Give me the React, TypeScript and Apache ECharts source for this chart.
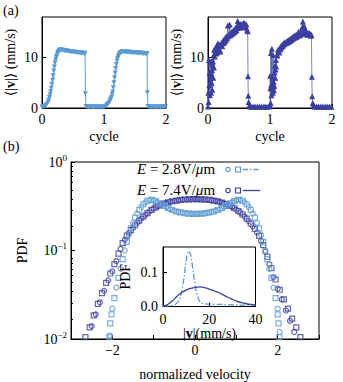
import React, { useEffect, useRef } from "react";
import * as echarts from "echarts";

const LIGHT = "#5b9bd5";
const DARK = "#3b3f9f";
const FONT = "'Liberation Serif', 'DejaVu Serif', 'Times New Roman', serif";

// ---- panel (a): <|v|> vs cycle ----
const lightTrace: [number, number][] = [
  [0, 0.2], [0.02, 0.25], [0.04, 0.35], [0.06, 0.5], [0.08, 0.8], [0.1, 1.2], [0.11, 1.6], [0.12, 2.1],
  [0.13, 2.6], [0.14, 3.2], [0.15, 3.9], [0.16, 4.7], [0.17, 5.5], [0.18, 6.4], [0.19, 7.3], [0.2, 8.1],
  [0.21, 8.9], [0.22, 9.5], [0.23, 10.0], [0.24, 10.4], [0.25, 10.8], [0.26, 11.0], [0.27, 11.2],
  [0.28, 11.35], [0.29, 11.45], [0.3, 11.5], [0.32, 11.45], [0.34, 11.4], [0.36, 11.35], [0.38, 11.3],
  [0.4, 11.3], [0.42, 11.25], [0.44, 11.2], [0.46, 11.2], [0.48, 11.15], [0.5, 11.1], [0.52, 11.1],
  [0.54, 11.05], [0.56, 11.0], [0.58, 11.0], [0.6, 10.95], [0.62, 10.95], [0.64, 10.9], [0.66, 10.9],
  [0.68, 10.85], [0.695, 10.8], [0.7, 2.8], [0.71, 0.3], [0.73, 0.25], [0.75, 0.2], [0.77, 0.2],
  [0.79, 0.2], [0.81, 0.2], [0.83, 0.2], [0.85, 0.2], [0.87, 0.2], [0.89, 0.2], [0.91, 0.2], [0.93, 0.2],
  [0.95, 0.2], [0.97, 0.2], [0.99, 0.25], [1.01, 0.3], [1.03, 0.4], [1.05, 0.66], [1.07, 0.9], [1.09, 1.2],
  [1.1, 1.5], [1.11, 1.8], [1.12, 2.1], [1.13, 2.6], [1.14, 3.1], [1.15, 4.0], [1.16, 5.0], [1.17, 6.0],
  [1.18, 6.9], [1.19, 7.8], [1.2, 8.6], [1.21, 9.3], [1.22, 9.8], [1.23, 10.2], [1.24, 10.5], [1.25, 10.7],
  [1.26, 10.9], [1.27, 11.0], [1.28, 11.1], [1.3, 11.15], [1.32, 11.15], [1.34, 11.1], [1.36, 11.1],
  [1.38, 11.1], [1.4, 11.05], [1.42, 11.05], [1.44, 11.0], [1.46, 11.0], [1.48, 11.0], [1.5, 10.95],
  [1.52, 10.95], [1.54, 10.9], [1.56, 10.9], [1.58, 10.9], [1.6, 10.85], [1.62, 10.85], [1.64, 10.8],
  [1.66, 10.8], [1.68, 10.75], [1.695, 10.75], [1.7, 3.0], [1.71, 0.3], [1.73, 0.25], [1.75, 0.2],
  [1.77, 0.2], [1.79, 0.2], [1.81, 0.2], [1.83, 0.2], [1.85, 0.2], [1.87, 0.2], [1.89, 0.2], [1.91, 0.2],
  [1.93, 0.2], [1.95, 0.2], [1.97, 0.2], [1.99, 0.2],
];

const darkTrace: [number, number][] = [
  [0, 0.3], [0.005, 3.0], [0.01, 1.2], [0.015, 9.5], [0.02, 4.5], [0.025, 7.0], [0.03, 2.5], [0.035, 9.0],
  [0.04, 4.9], [0.045, 6.5], [0.05, 3.0], [0.055, 9.3], [0.06, 5.0], [0.065, 7.5], [0.07, 3.6], [0.075, 8.5],
  [0.08, 9.2], [0.085, 6.0], [0.09, 10.5], [0.095, 8.0], [0.1, 11.5], [0.11, 10.2], [0.12, 11.9],
  [0.13, 10.8], [0.14, 12.3], [0.15, 11.0], [0.16, 12.8], [0.17, 11.6], [0.18, 12.5], [0.19, 11.4],
  [0.2, 11.2], [0.21, 12.6], [0.22, 12.9], [0.23, 12.2], [0.24, 13.2], [0.25, 12.8], [0.26, 13.6],
  [0.27, 13.1], [0.28, 13.9], [0.29, 13.4], [0.3, 14.2], [0.31, 13.8], [0.32, 16.3], [0.33, 14.2],
  [0.34, 14.6], [0.35, 16.5], [0.36, 14.4], [0.37, 14.9], [0.38, 14.6], [0.39, 15.2], [0.4, 14.8],
  [0.41, 15.3], [0.42, 15.0], [0.43, 15.6], [0.44, 15.2], [0.45, 15.9], [0.46, 15.4], [0.47, 16.2],
  [0.48, 17.2], [0.49, 15.8], [0.5, 16.4], [0.51, 16.0], [0.52, 16.6], [0.53, 16.3], [0.54, 16.5],
  [0.55, 15.9], [0.56, 16.4], [0.57, 16.8], [0.58, 16.1], [0.59, 16.8], [0.6, 16.2], [0.61, 16.0],
  [0.62, 16.5], [0.63, 15.5], [0.64, 15.2], [0.645, 6.3], [0.65, 2.4], [0.655, 1.2], [0.665, 0.5],
  [0.68, 0.3], [0.71, 0.25], [0.74, 0.3], [0.77, 0.25], [0.8, 0.3], [0.83, 0.25], [0.86, 0.3],
  [0.89, 0.25], [0.92, 0.3], [0.95, 0.25], [0.98, 0.3],
  [1.0, 0.5], [1.003, 6.4], [1.006, 3.9], [1.01, 1.0], [1.015, 10.9], [1.02, 4.6], [1.025, 2.5],
  [1.03, 11.7], [1.035, 4.2], [1.04, 6.0], [1.045, 3.0], [1.05, 10.5], [1.055, 4.3], [1.06, 5.2],
  [1.065, 3.5], [1.07, 4.4], [1.075, 7.0], [1.08, 8.4], [1.085, 6.0], [1.09, 7.6], [1.095, 9.5],
  [1.1, 8.2], [1.11, 10.5], [1.12, 10.4], [1.13, 11.5], [1.14, 11.4], [1.15, 11.0], [1.16, 11.9],
  [1.17, 11.6], [1.18, 12.3], [1.19, 12.0], [1.2, 12.5], [1.21, 12.3], [1.22, 12.8], [1.23, 12.6],
  [1.24, 13.0], [1.25, 12.8], [1.26, 13.1], [1.27, 12.9], [1.28, 13.3], [1.29, 13.0], [1.3, 13.4],
  [1.31, 13.2], [1.32, 13.6], [1.33, 13.3], [1.34, 13.8], [1.35, 13.5], [1.36, 14.0], [1.37, 13.7],
  [1.38, 14.2], [1.39, 13.9], [1.4, 14.3], [1.41, 14.0], [1.42, 14.5], [1.43, 14.1], [1.44, 14.6],
  [1.45, 14.3], [1.46, 15.1], [1.47, 14.5], [1.48, 14.8], [1.49, 14.4], [1.5, 15.2], [1.51, 14.7],
  [1.52, 16.0], [1.53, 17.1], [1.54, 15.0], [1.55, 16.2], [1.56, 15.8], [1.57, 14.9], [1.58, 15.0],
  [1.59, 14.6], [1.6, 14.9], [1.61, 14.5], [1.62, 14.8], [1.63, 14.6], [1.64, 14.8], [1.65, 14.5],
  [1.66, 14.3], [1.668, 14.5], [1.675, 6.2], [1.68, 2.3], [1.69, 1.0], [1.7, 0.5], [1.72, 0.3],
  [1.75, 0.25], [1.78, 0.3], [1.81, 0.25], [1.84, 0.3], [1.87, 0.25], [1.9, 0.3], [1.93, 0.25],
  [1.96, 0.3], [1.99, 0.25],
];

// ---- panel (b): PDF of normalized velocity ----
const lightCircles: [number, number][] = [
  [-2.06, 0.011], [-2.0, 0.022], [-1.9, 0.038], [-1.8, 0.062], [-1.7, 0.1], [-1.6, 0.15], [-1.5, 0.205],
  [-1.4, 0.262], [-1.3, 0.31], [-1.2, 0.35], [-1.1, 0.372], [-1.0, 0.37], [-0.9, 0.352], [-0.8, 0.33],
  [-0.7, 0.31], [-0.6, 0.293], [-0.5, 0.281], [-0.4, 0.272], [-0.3, 0.266], [-0.2, 0.262], [-0.1, 0.26],
  [0, 0.259], [0.1, 0.26], [0.2, 0.262], [0.3, 0.266], [0.4, 0.272], [0.5, 0.281], [0.6, 0.293],
  [0.7, 0.31], [0.8, 0.33], [0.9, 0.352], [1.0, 0.37], [1.1, 0.374], [1.2, 0.35], [1.3, 0.31],
  [1.4, 0.262], [1.5, 0.205], [1.6, 0.15], [1.7, 0.1], [1.8, 0.062], [1.9, 0.038], [2.0, 0.022],
  [2.05, 0.012],
];
const lightSquares: [number, number][] = [
  [-2.07, 0.0105], [-2.05, 0.015], [-2.02, 0.019], [-1.95, 0.029], [-1.85, 0.049], [-1.75, 0.08],
  [-1.65, 0.125], [-1.55, 0.178], [-1.45, 0.235], [-1.35, 0.288], [-1.25, 0.333], [-1.15, 0.365],
  [-1.05, 0.373], [-0.95, 0.362], [-0.85, 0.341], [-0.75, 0.32], [-0.65, 0.301], [-0.55, 0.287],
  [-0.45, 0.276], [-0.35, 0.269], [-0.25, 0.264], [-0.15, 0.261], [-0.05, 0.259], [0.05, 0.259],
  [0.15, 0.261], [0.25, 0.264], [0.35, 0.269], [0.45, 0.276], [0.55, 0.287], [0.65, 0.301], [0.75, 0.32],
  [0.85, 0.341], [0.95, 0.362], [1.05, 0.374], [1.15, 0.365], [1.25, 0.333], [1.35, 0.288], [1.45, 0.235],
  [1.55, 0.178], [1.65, 0.125], [1.75, 0.08], [1.85, 0.049], [1.95, 0.029], [2.0, 0.019], [2.02, 0.015],
  [2.04, 0.0105],
];
const darkCircles: [number, number][] = [
  [-2.5, 0.014], [-2.4, 0.019], [-2.3, 0.026], [-2.2, 0.035], [-2.1, 0.046], [-2.0, 0.058], [-1.9, 0.076],
  [-1.8, 0.104], [-1.7, 0.132], [-1.6, 0.158], [-1.5, 0.18], [-1.4, 0.205], [-1.3, 0.229], [-1.2, 0.253],
  [-1.1, 0.277], [-1.0, 0.298], [-0.9, 0.316], [-0.8, 0.332], [-0.7, 0.345], [-0.6, 0.356], [-0.5, 0.364],
  [-0.4, 0.37], [-0.3, 0.375], [-0.2, 0.378], [-0.1, 0.38], [0, 0.38], [0.1, 0.38], [0.2, 0.378],
  [0.3, 0.375], [0.4, 0.37], [0.5, 0.363], [0.6, 0.354], [0.7, 0.342], [0.8, 0.327], [0.9, 0.31],
  [1.0, 0.29], [1.1, 0.267], [1.2, 0.242], [1.3, 0.215], [1.4, 0.188], [1.5, 0.16], [1.6, 0.128],
  [1.7, 0.097], [1.8, 0.07], [1.9, 0.05], [2.0, 0.037], [2.1, 0.028], [2.2, 0.021], [2.3, 0.016],
  [2.4, 0.012],
];
const darkSquares: [number, number][] = [
  [-2.65, 0.0105], [-2.55, 0.0135], [-2.45, 0.0185], [-2.35, 0.025], [-2.25, 0.033], [-2.15, 0.043],
  [-2.05, 0.055], [-1.95, 0.07], [-1.85, 0.092], [-1.75, 0.121], [-1.65, 0.147], [-1.55, 0.17],
  [-1.45, 0.193], [-1.35, 0.217], [-1.25, 0.241], [-1.15, 0.265], [-1.05, 0.288], [-0.95, 0.307],
  [-0.85, 0.324], [-0.75, 0.339], [-0.65, 0.351], [-0.55, 0.36], [-0.45, 0.367], [-0.35, 0.373],
  [-0.25, 0.377], [-0.15, 0.379], [-0.05, 0.38], [0.05, 0.38], [0.15, 0.379], [0.25, 0.377],
  [0.35, 0.373], [0.45, 0.367], [0.55, 0.359], [0.65, 0.348], [0.75, 0.335], [0.85, 0.319], [0.95, 0.3],
  [1.05, 0.279], [1.15, 0.255], [1.25, 0.229], [1.35, 0.202], [1.45, 0.175], [1.55, 0.146],
  [1.65, 0.115], [1.75, 0.085], [1.85, 0.063], [1.95, 0.047], [2.05, 0.036], [2.15, 0.028],
  [2.25, 0.022], [2.35, 0.017], [2.45, 0.0135], [2.55, 0.0105],
];

// ---- inset: PDF of |v| (mm/s) ----
const lightInsetX = [0, 2, 4, 5, 6, 7, 8, 9, 10, 11, 12, 13, 14, 15, 16, 17, 18, 20, 25, 30, 35, 40];
const lightInsetY = [0.002, 0.002, 0.003, 0.005, 0.01, 0.02, 0.042, 0.08, 0.132, 0.162, 0.15, 0.104,
  0.058, 0.028, 0.014, 0.009, 0.008, 0.007, 0.006, 0.005, 0.004, 0.004];
const darkInsetX = [0, 2, 4, 6, 8, 10, 12, 14, 16, 18, 20, 22, 24, 26, 28, 30, 32, 34, 36, 38, 40];
const darkInsetY = [0.0, 0.006, 0.016, 0.029, 0.04, 0.048, 0.053, 0.056, 0.057, 0.055, 0.051, 0.046,
  0.041, 0.034, 0.027, 0.021, 0.015, 0.011, 0.008, 0.006, 0.005];

// ---- ticks ----
const speedTicks = [0, 10];
const cycleTicks = [0, 1, 2];
const pdfDecades = [-2, -1, 0]; // 10^-2, 10^-1, 10^0
const pdfMinorTicks = [0.02, 0.03, 0.04, 0.05, 0.06, 0.07, 0.08, 0.09, 0.2, 0.3, 0.4, 0.5, 0.6, 0.7, 0.8, 0.9];
const insetXTicks = [0, 20, 40];
const insetYTicks = [0, 0.1];
const legendLabels = ["{i|E} = 2.8V/{i|μ}m", "{i|E} = 7.4V/{i|μ}m"];

// Panel (b) is drawn on linear axes in (velocity + 3, log10 PDF): the velocity origin
// sits on the left edge, the PDF axis is in decades; labels show the true values.
const VEL_ORIGIN = -3;
const toPanelB = (pts: [number, number][]) => pts.map(([x, y]) => [x - VEL_ORIGIN, Math.log10(y)]);
const velLabel = (v: number) => {
  const t = Math.round(v + VEL_ORIGIN);
  if (t % 2 !== 0) return "";
  return t < 0 ? "−" + Math.abs(t) : String(t);
};
const decadeLabel = (v: number) => {
  const e = Math.round(v);
  return "{b|10}{s|" + (e < 0 ? "−" + Math.abs(e) : String(e)) + "}";
};

const zip = (xs: number[], ys: number[]) => xs.map((x, i) => [x, ys[i]]);

const txt = { fontFamily: FONT, fontSize: 14, color: "#000" };

function valueAxis(gridIndex: number, min: number, max: number, ticks: number[] | null, extra: any = {}) {
  return {
    type: "value",
    gridIndex,
    min,
    max,
    axisLine: { show: true, onZero: false, lineStyle: { color: "#000", width: 1 } },
    axisTick: { show: true, inside: true, length: 4, lineStyle: { color: "#000" }, ...(ticks ? { customValues: ticks } : {}) },
    axisLabel: { ...txt, margin: 4, ...(ticks ? { customValues: ticks } : {}) },
    splitLine: { show: false },
    ...extra,
  };
}

export default function App() {
  const ref = useRef<HTMLDivElement>(null);
  useEffect(() => {
    if (!ref.current) return;
    const chart = echarts.init(ref.current, undefined, { renderer: "svg" });
    const vName = "⟨|{b|v}|⟩ (mm/s)";
    const option: any = {
      animation: false,
      backgroundColor: "#fff",
      grid: [
        { left: 42, top: 17, width: 124, height: 91, show: true, borderColor: "#000", borderWidth: 1 },
        { left: 208, top: 17, width: 124, height: 91, show: true, borderColor: "#000", borderWidth: 1 },
        { left: 71, top: 162, width: 248, height: 185, show: true, borderColor: "#000", borderWidth: 1 },
        { left: 163, top: 247, width: 92.5, height: 59.5, show: true, borderColor: "#000", borderWidth: 1, backgroundColor: "#fff", z: 5 },
        { left: 71, top: 162, width: 248, height: 185, show: false },
      ],
      xAxis: [
        valueAxis(0, 0, 2, cycleTicks, { name: "cycle", nameLocation: "middle", nameGap: 21, nameTextStyle: txt }),
        valueAxis(1, 0, 2, cycleTicks, { name: "cycle", nameLocation: "middle", nameGap: 21, nameTextStyle: txt }),
        valueAxis(2, 0, 6, null, {
          interval: 1,
          name: "normalized velocity", nameLocation: "middle", nameGap: 28, nameTextStyle: txt,
          axisLabel: { ...txt, margin: 4, formatter: velLabel, showMinLabel: true, showMaxLabel: true },
        }),
        valueAxis(3, 0, 40, insetXTicks, {
          axisLabel: { ...txt, customValues: insetXTicks, margin: 6 },
          z: 6,
        }),
        { type: "value", gridIndex: 4, min: 0, max: 1, show: false },
      ],
      yAxis: [
        valueAxis(0, 0, 18, speedTicks, {
          name: vName, nameLocation: "middle", nameGap: 25, nameRotate: 90,
          nameTextStyle: { ...txt, rich: { b: { ...txt, fontWeight: "bold" } } },
        }),
        valueAxis(1, 0, 18, speedTicks, {
          name: vName, nameLocation: "middle", nameGap: 25, nameRotate: 90,
          nameTextStyle: { ...txt, rich: { b: { ...txt, fontWeight: "bold" } } },
        }),
        valueAxis(2, -2, 0, pdfDecades, {
          name: "PDF", nameLocation: "middle", nameGap: 42, nameRotate: 90, nameTextStyle: txt,
          axisLabel: {
            margin: 4,
            customValues: pdfDecades,
            formatter: decadeLabel,
            rich: {
              b: { ...txt, fontSize: 14 },
              s: { ...txt, fontSize: 9, padding: [0, 0, 9, 0] },
            },
          },
        }),
        valueAxis(3, 0, 0.1737, insetYTicks, {
          name: "PDF", nameLocation: "middle", nameGap: 31, nameRotate: 90, nameTextStyle: txt,
          axisLabel: { ...txt, customValues: insetYTicks, margin: 5, formatter: (v: number) => v.toFixed(1) },
          z: 6,
        }),
        {
          type: "value",
          gridIndex: 4,
          min: -2,
          max: 0,
          axisLine: { show: false, onZero: false },
          axisTick: { show: true, inside: true, length: 2, customValues: pdfMinorTicks.map(Math.log10), lineStyle: { color: "#000" } },
          axisLabel: { show: false },
          splitLine: { show: false },
        },
      ],
      series: [
        {
          type: "line", xAxisIndex: 0, yAxisIndex: 0, data: lightTrace,
          symbol: "triangle", symbolRotate: 180, symbolSize: 5,
          lineStyle: { color: LIGHT, width: 1 }, itemStyle: { color: LIGHT },
        },
        {
          type: "line", xAxisIndex: 1, yAxisIndex: 1, data: darkTrace,
          symbol: "triangle", symbolSize: 6,
          lineStyle: { color: DARK, width: 0.8, opacity: 0.8 }, itemStyle: { color: DARK },
        },
        {
          type: "scatter", xAxisIndex: 2, yAxisIndex: 2, data: toPanelB(darkSquares), symbol: "rect", symbolSize: 5,
          itemStyle: { color: "rgba(0,0,0,0)", borderColor: DARK, borderWidth: 1.2 },
        },
        {
          type: "scatter", xAxisIndex: 2, yAxisIndex: 2, data: toPanelB(darkCircles), symbol: "circle", symbolSize: 5,
          itemStyle: { color: "rgba(0,0,0,0)", borderColor: DARK, borderWidth: 1.2 },
        },
        {
          type: "scatter", xAxisIndex: 2, yAxisIndex: 2, data: toPanelB(lightSquares), symbol: "rect", symbolSize: 5,
          itemStyle: { color: "rgba(0,0,0,0)", borderColor: LIGHT, borderWidth: 1.2 },
        },
        {
          type: "scatter", xAxisIndex: 2, yAxisIndex: 2, data: toPanelB(lightCircles), symbol: "circle", symbolSize: 5,
          itemStyle: { color: "rgba(0,0,0,0)", borderColor: LIGHT, borderWidth: 1.2 },
        },
        {
          type: "line", xAxisIndex: 3, yAxisIndex: 3, data: zip(lightInsetX, lightInsetY), showSymbol: false,
          smooth: 0.3, z: 7, lineStyle: { color: LIGHT, width: 1.3, type: [6, 2, 1.5, 2] },
        },
        {
          type: "line", xAxisIndex: 3, yAxisIndex: 3, data: zip(darkInsetX, darkInsetY), showSymbol: false,
          smooth: 0.3, z: 7, lineStyle: { color: DARK, width: 1.3 },
        },
      ],
      graphic: [
        { type: "text", left: 3, top: 3, style: { text: "(a)", font: "14px " + FONT, fill: "#000" } },
        { type: "text", left: 3, top: 139, style: { text: "(b)", font: "14px " + FONT, fill: "#000" } },
        {
          type: "text", x: 209.5, y: 333, z: 10,
          style: {
            text: "|{b|v}|(mm/s)", font: "14px " + FONT, fill: "#000", align: "center", verticalAlign: "middle",
            rich: { b: { fontFamily: FONT, fontSize: 14, fontWeight: "bold", fill: "#000" } },
          },
        },
        ...legendLabels.map((label, i) => ({
          type: "group",
          left: 137,
          top: 161 + i * 21,
          children: [
            {
              type: "text", x: 0, y: 0,
              style: {
                text: label, font: "15px " + FONT, fill: "#000",
                rich: { i: { fontStyle: "italic", fontFamily: FONT, fontSize: 15, fill: "#000" } },
              },
            },
            { type: "circle", shape: { cx: 91, cy: 8.5, r: 2.2 }, style: { fill: "none", stroke: i === 0 ? LIGHT : DARK, lineWidth: 1.2 } },
            { type: "rect", shape: { x: 98.5, y: 6, width: 5, height: 5 }, style: { fill: "none", stroke: i === 0 ? LIGHT : DARK, lineWidth: 1.2 } },
            {
              type: "line", shape: { x1: 106, y1: 8.5, x2: 123, y2: 8.5 },
              style: { stroke: i === 0 ? LIGHT : DARK, lineWidth: 1.3, lineDash: i === 0 ? [5, 2, 1.5, 2] : [] },
            },
          ],
        })),
      ],
    };
    chart.setOption(option);
    return () => chart.dispose();
  }, []);
  return <div ref={ref} style={{ position: "fixed", left: 0, top: 0, width: 343, height: 382 }} />;
}
